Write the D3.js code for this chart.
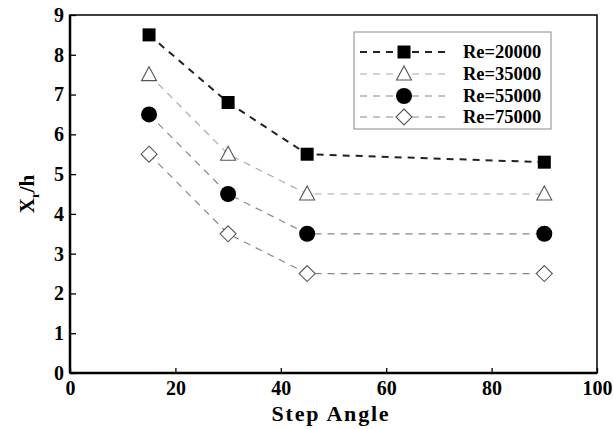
<!DOCTYPE html>
<html><head><meta charset="utf-8">
<script src="https://cdn.jsdelivr.net/npm/d3@7"></script>
<style>body{margin:0;background:#fff}svg{display:block}text{font-family:"Liberation Serif","Times New Roman",serif;font-weight:bold}</style>
</head><body><svg id="c" width="613" height="429"></svg>
<script>
const angles = [15, 30, 45, 90];
const re20000 = [8.5, 6.8, 5.5, 5.3];
const re35000 = [7.5, 5.5, 4.5, 4.5];
const re55000 = [6.5, 4.5, 3.5, 3.5];
const re75000 = [5.5, 3.5, 2.5, 2.5];
const seriesNames = ["Re=20000", "Re=35000", "Re=55000", "Re=75000"];
const xTicks = [0, 20, 40, 60, 80, 100];
const yTicks = [0, 1, 2, 3, 4, 5, 6, 7, 8, 9];

const series = [
  {name: seriesNames[0], vals: re20000, sym: "square", line: "#222", lw: 2, dash: "7,6"},
  {name: seriesNames[1], vals: re35000, sym: "triangle", line: "#aaa", lw: 1.2, dash: "7,6"},
  {name: seriesNames[2], vals: re55000, sym: "circle", line: "#888", lw: 1.2, dash: "7,6"},
  {name: seriesNames[3], vals: re75000, sym: "diamond", line: "#888", lw: 1.2, dash: "7,6"}
];

const svg = d3.select("#c");
const L = 70, R = 597, T = 15, B = 373;
const x = d3.scaleLinear().domain([0, 100]).range([L, R]);
const y = d3.scaleLinear().domain([0, 9]).range([B, T]);

function marker(g, sym, cx, cy) {
  if (sym === "square") g.append("rect").attr("x", cx-6.5).attr("y", cy-6.5).attr("width", 13).attr("height", 13).attr("fill", "#000");
  else if (sym === "circle") g.append("circle").attr("cx", cx).attr("cy", cy).attr("r", 8).attr("fill", "#000");
  else if (sym === "triangle") g.append("path").attr("d", `M${cx},${cy-8}L${cx+7.5},${cy+6}L${cx-7.5},${cy+6}Z`).attr("fill", "#fff").attr("stroke", "#555").attr("stroke-width", 1.1);
  else if (sym === "diamond") g.append("path").attr("d", `M${cx},${cy-8}L${cx+8},${cy}L${cx},${cy+8}L${cx-8},${cy}Z`).attr("fill", "#fff").attr("stroke", "#555").attr("stroke-width", 1.1);
}

const lineGen = d3.line().x((d, i) => x(angles[i])).y(d => y(d));
series.forEach(s => {
  svg.append("path").attr("d", lineGen(s.vals)).attr("fill", "none")
    .attr("stroke", s.line).attr("stroke-width", s.lw).attr("stroke-dasharray", s.dash);
});
series.forEach(s => {
  const g = svg.append("g");
  s.vals.forEach((v, i) => marker(g, s.sym, x(angles[i]), y(v)));
});

svg.append("rect").attr("x", L).attr("y", T).attr("width", R-L).attr("height", B-T)
  .attr("fill", "none").attr("stroke", "#000").attr("stroke-width", 1.5);
svg.append("line").attr("x1", L).attr("x2", L).attr("y1", T).attr("y2", B).attr("stroke", "#000").attr("stroke-width", 2.5);
svg.append("line").attr("x1", L).attr("x2", R).attr("y1", B).attr("y2", B).attr("stroke", "#000").attr("stroke-width", 2.5);

const xAxis = d3.axisBottom(x).tickValues(xTicks).tickSize(-5).tickPadding(12).tickFormat(d3.format("d"));
const gx = svg.append("g").attr("transform", `translate(0,${B})`).call(xAxis);
const yAxis = d3.axisLeft(y).tickValues(yTicks).tickSize(-6).tickPadding(10).tickFormat(d3.format("d"));
const gy = svg.append("g").attr("transform", `translate(${L},0)`).call(yAxis);
[gx, gy].forEach(g => {
  g.select(".domain").remove();
  g.selectAll(".tick line").attr("stroke", "#000").attr("stroke-width", 1.3);
  g.selectAll(".tick text").attr("font-size", 20).attr("fill", "#000")
    .style("font-family", '"Liberation Serif",serif').style("font-weight", "bold");
});
gx.selectAll(".tick text").attr("dy", "0.71em").attr("y", 8);
gy.selectAll(".tick text").attr("x", -6);

svg.append("text").attr("x", 331).attr("y", 421).attr("text-anchor", "middle")
  .attr("font-size", 22).attr("letter-spacing", 1.8).text("Step Angle");
const yt = svg.append("text").attr("transform", `translate(34,${(T+B)/2}) rotate(-90)`)
  .attr("text-anchor", "middle").attr("font-size", 21);
yt.append("tspan").text("X");
yt.append("tspan").attr("font-size", 13).attr("dy", 5).text("r");
yt.append("tspan").attr("dy", -5).text("/h");

const lg = svg.append("g");
lg.append("rect").attr("x", 354).attr("y", 32).attr("width", 197).attr("height", 97)
  .attr("fill", "#fff").attr("stroke", "#888").attr("stroke-width", 1);
const rowsY = [52, 74, 96, 117];
series.forEach((s, i) => {
  const yy = rowsY[i];
  lg.append("line").attr("x1", 360).attr("x2", 448).attr("y1", yy).attr("y2", yy)
    .attr("stroke", s.line).attr("stroke-width", s.lw).attr("stroke-dasharray", s.dash);
  marker(lg, s.sym, 404, yy);
  lg.append("text").attr("x", 463).attr("y", yy + 6).attr("font-size", 18.5).attr("fill", "#000").text(s.name);
});
</script></body></html>
